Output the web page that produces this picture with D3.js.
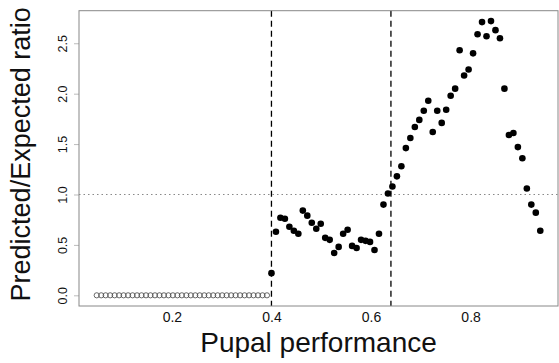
<!DOCTYPE html>
<html>
<head>
<meta charset="utf-8">
<script src="https://cdn.jsdelivr.net/npm/d3@7"></script>
<style>
  html, body { margin: 0; padding: 0; background: #fff; }
  svg { display: block; font-family: "Liberation Sans", Arial, sans-serif; }
</style>
</head>
<body>
<svg id="chart" width="559" height="363"></svg>
<script>
// ---- data ----
const xOpen = [0.049, 0.058, 0.067, 0.076, 0.085, 0.094, 0.103, 0.112, 0.121, 0.130,
               0.139, 0.148, 0.157, 0.166, 0.175, 0.184, 0.193, 0.202, 0.211, 0.220,
               0.229, 0.238, 0.247, 0.256, 0.265, 0.274, 0.283, 0.292, 0.301, 0.310,
               0.319, 0.328, 0.337, 0.346, 0.355, 0.364, 0.373, 0.382, 0.391];
const yOpen = [0,0,0,0,0,0,0,0,0,0, 0,0,0,0,0,0,0,0,0,0, 0,0,0,0,0,0,0,0,0,0, 0,0,0,0,0,0,0,0,0];

const xFilled = [0.400, 0.409, 0.418, 0.427, 0.436, 0.445, 0.454, 0.463, 0.472, 0.481,
                 0.490, 0.499, 0.508, 0.517, 0.526, 0.535, 0.544, 0.553, 0.562, 0.571,
                 0.580, 0.589, 0.598, 0.607, 0.616, 0.625, 0.634, 0.643, 0.652, 0.661,
                 0.670, 0.679, 0.688, 0.697, 0.706, 0.715, 0.724, 0.733, 0.742, 0.751,
                 0.760, 0.769, 0.778, 0.787, 0.796, 0.805, 0.814, 0.823, 0.832, 0.841,
                 0.850, 0.859, 0.868, 0.877, 0.886, 0.895, 0.904, 0.913, 0.922, 0.931,
                 0.940];
const yFilled = [0.22, 0.63, 0.77, 0.76, 0.68, 0.64, 0.61, 0.84, 0.79, 0.72,
                 0.66, 0.71, 0.57, 0.55, 0.42, 0.48, 0.61, 0.65, 0.49, 0.47,
                 0.55, 0.54, 0.53, 0.45, 0.61, 0.90, 1.01, 1.08, 1.18, 1.28,
                 1.46, 1.56, 1.67, 1.74, 1.83, 1.93, 1.62, 1.83, 1.71, 1.84,
                 1.98, 2.05, 2.43, 2.18, 2.24, 2.40, 2.59, 2.71, 2.57, 2.72,
                 2.63, 2.55, 2.05, 1.59, 1.61, 1.47, 1.36, 1.06, 0.90, 0.82,
                 0.64];

const yTicks = [0.0, 0.5, 1.0, 1.5, 2.0, 2.5];
const xTicks = [0.2, 0.4, 0.6, 0.8];
const vLines = [0.40, 0.64];
const hLine = 1.0;
const xLabel = "Pupal performance";
const yLabel = "Predicted/Expected ratio";

// ---- layout ----
const L = 79, R = 558, T = 10.7, B = 306;
const svg = d3.select("#chart");

const x = d3.scaleLinear().domain([0.0134, 0.9756]).range([L, R]);
const y = d3.scaleLinear().domain([-0.106, 2.823]).range([B, T]);

// reference lines
svg.append("line")
  .attr("x1", L).attr("x2", R)
  .attr("y1", y(hLine)).attr("y2", y(hLine))
  .attr("stroke", "#888").attr("stroke-width", 1)
  .attr("stroke-dasharray", "1.5,3");

svg.selectAll("line.vl").data(vLines).enter().append("line")
  .attr("class", "vl")
  .attr("x1", d => x(d)).attr("x2", d => x(d))
  .attr("y1", T).attr("y2", B)
  .attr("stroke", "#000").attr("stroke-width", 1.3)
  .attr("stroke-dasharray", "6,4");

// points
svg.selectAll("circle.open").data(xOpen.map((d, i) => [d, yOpen[i]])).enter()
  .append("circle").attr("class", "open")
  .attr("cx", d => x(d[0])).attr("cy", d => y(d[1]))
  .attr("r", 2.6).attr("fill", "none").attr("stroke", "#444").attr("stroke-width", 0.8);

svg.selectAll("circle.fill").data(xFilled.map((d, i) => [d, yFilled[i]])).enter()
  .append("circle").attr("class", "fill")
  .attr("cx", d => x(d[0])).attr("cy", d => y(d[1]))
  .attr("r", 3.3).attr("fill", "#000");

// axes
const yAxis = d3.axisLeft(y).tickValues(yTicks).tickFormat(d3.format(".1f")).tickSize(5).tickPadding(4);
const gy = svg.append("g").attr("transform", `translate(${L},0)`).call(yAxis);
gy.select(".domain").remove();
gy.selectAll(".tick line").attr("stroke", "#bbb");
gy.selectAll(".tick text")
  .attr("font-size", 12.5).attr("fill", "#111")
  .attr("text-anchor", "middle")
  .attr("transform", "rotate(-90)")
  .attr("x", 0).attr("y", -16).attr("dy", "0.35em");

const xAxis = d3.axisBottom(x).tickValues(xTicks).tickFormat(d3.format(".1f")).tickSize(0).tickPadding(6);
const gx = svg.append("g").attr("transform", `translate(0,${B})`).call(xAxis);
gx.select(".domain").remove();
gx.selectAll(".tick text").attr("font-size", 14).attr("fill", "#111");

// frame
svg.append("rect")
  .attr("x", L).attr("y", T).attr("width", R - L).attr("height", B - T)
  .attr("fill", "none").attr("stroke", "#888").attr("stroke-width", 1);

// titles
svg.append("text")
  .attr("x", (L + R) / 2).attr("y", 352)
  .attr("text-anchor", "middle").attr("font-size", 28).attr("fill", "#111")
  .text(xLabel);

svg.append("text")
  .attr("transform", `translate(30,${(T + B) / 2 - 4}) rotate(-90)`)
  .attr("text-anchor", "middle").attr("font-size", 27).attr("fill", "#111")
  .text(yLabel);
</script>
</body>
</html>
